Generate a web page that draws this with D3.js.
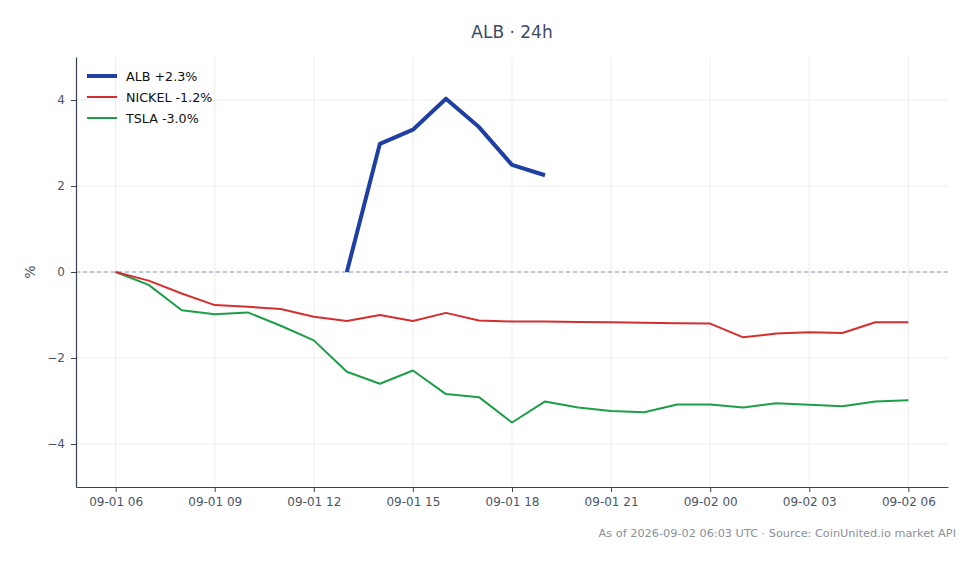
<!DOCTYPE html>
<html>
<head>
<meta charset="utf-8">
<script src="https://cdn.jsdelivr.net/npm/d3@7"></script>
<style>
  body { margin: 0; background: #fff; }
  svg { font-family: "DejaVu Sans", sans-serif; }
</style>
</head>
<body>
<svg id="chart" width="980" height="564"></svg>
<script>
// hours since 09-01 06:00 UTC
const start = new Date(Date.UTC(2026, 8, 1, 6));
const hours = d3.range(0, 25);

const albHours = [7, 8, 9, 10, 11, 12, 13];
const albValues = [0, 2.98, 3.31, 4.03, 3.37, 2.49, 2.25];

const nickelValues = [0, -0.2, -0.5, -0.77, -0.81, -0.86, -1.04, -1.14, -1.0, -1.14, -0.95, -1.13,
  -1.15, -1.15, -1.16, -1.17, -1.18, -1.19, -1.2, -1.52, -1.43, -1.4, -1.42, -1.17, -1.17];

const tslaValues = [0, -0.3, -0.89, -0.98, -0.94, -1.25, -1.59, -2.32, -2.6, -2.29, -2.84, -2.91,
  -3.5, -3.01, -3.15, -3.23, -3.26, -3.08, -3.08, -3.15, -3.05, -3.09, -3.12, -3.01, -2.98];

const legendLabels = ["ALB +2.3%", "NICKEL -1.2%", "TSLA -3.0%"];
const yTicks = [-4, -2, 0, 2, 4];
const xTickHours = [0, 3, 6, 9, 12, 15, 18, 21, 24];

const toDate = h => new Date(start.getTime() + h * 3600e3);

const series = [
  { name: legendLabels[0], color: "#1f3fa3", width: 4, pts: albHours.map((h, i) => [toDate(h), albValues[i]]) },
  { name: legendLabels[1], color: "#d32f2f", width: 2, pts: hours.map((h, i) => [toDate(h), nickelValues[i]]) },
  { name: legendLabels[2], color: "#1e9e48", width: 2, pts: hours.map((h, i) => [toDate(h), tslaValues[i]]) }
];

const svg = d3.select("#chart");
const margin = { top: 57, right: 32, bottom: 77, left: 76 };
const width = 980 - margin.left - margin.right;
const height = 564 - margin.top - margin.bottom;

const x = d3.scaleUtc()
  .domain([toDate(-1.2), toDate(25.2)])
  .range([0, width]);
const y = d3.scaleLinear()
  .domain([-5, 5])
  .range([height, 0]);

const g = svg.append("g").attr("transform", `translate(${margin.left},${margin.top})`);

// grid
g.selectAll(".vgrid").data(xTickHours).enter().append("line")
  .attr("x1", d => x(toDate(d))).attr("x2", d => x(toDate(d)))
  .attr("y1", 0).attr("y2", height)
  .attr("stroke", "#e6e9ee").attr("stroke-width", 0.8);
g.selectAll(".hgrid").data(yTicks).enter().append("line")
  .attr("x1", 0).attr("x2", width)
  .attr("y1", d => y(d)).attr("y2", d => y(d))
  .attr("stroke", "#e6e9ee").attr("stroke-width", 0.8);

// zero line
g.append("line")
  .attr("x1", 0).attr("x2", width)
  .attr("y1", y(0)).attr("y2", y(0))
  .attr("stroke", "#8e9bb3").attr("stroke-width", 1)
  .attr("stroke-dasharray", "4,3");

// lines
const line = d3.line().x(d => x(d[0])).y(d => y(d[1]));
series.slice().reverse().forEach(s => {
  g.append("path")
    .datum(s.pts)
    .attr("d", line)
    .attr("fill", "none")
    .attr("stroke", s.color)
    .attr("stroke-width", s.width)
    .attr("stroke-linejoin", "round");
});

// axes
const xAxis = g.append("g")
  .attr("transform", `translate(0,${height})`)
  .call(d3.axisBottom(x)
    .tickValues(xTickHours.map(toDate))
    .tickFormat(d3.utcFormat("%m-%d %H"))
    .tickSizeInner(5).tickSizeOuter(0).tickPadding(5));
const yAxis = g.append("g")
  .call(d3.axisLeft(y)
    .tickValues(yTicks)
    .tickFormat(d => d < 0 ? "\u2212" + Math.abs(d) : d)
    .tickSizeInner(5).tickSizeOuter(0).tickPadding(6));

[xAxis, yAxis].forEach(a => {
  a.select(".domain").attr("stroke", "#3b4252").attr("stroke-width", 1.2);
  a.selectAll(".tick line").attr("stroke", "#3b4252");
  a.selectAll(".tick text").attr("fill", "#4a5566").style("font-size", "12px")
    .style("font-family", "DejaVu Sans, sans-serif");
});

// y label
svg.append("text")
  .attr("transform", `translate(35,${margin.top + y(0)}) rotate(-90)`)
  .attr("text-anchor", "middle")
  .attr("fill", "#4a5566")
  .style("font-size", "14px")
  .text("%");

// title
svg.append("text")
  .attr("x", margin.left + width / 2)
  .attr("y", 38)
  .attr("text-anchor", "middle")
  .attr("fill", "#3d4b5e")
  .style("font-size", "17px")
  .text("ALB \u00b7 24h");

// legend
const legend = g.append("g").attr("transform", "translate(11,19)");
series.forEach((s, i) => {
  const row = legend.append("g").attr("transform", `translate(0,${i * 21})`);
  row.append("line")
    .attr("x1", 0).attr("x2", 30)
    .attr("stroke", s.color).attr("stroke-width", s.width);
  row.append("text")
    .attr("x", 39).attr("y", 4.5)
    .attr("fill", "#111")
    .style("font-size", "12.7px")
    .text(s.name);
});

// footer
svg.append("text")
  .attr("x", 956)
  .attr("y", 537)
  .attr("text-anchor", "end")
  .attr("fill", "#8a8f98")
  .style("font-size", "11.3px")
  .text("As of 2026-09-02 06:03 UTC \u00b7 Source: CoinUnited.io market API");
</script>
</body>
</html>
